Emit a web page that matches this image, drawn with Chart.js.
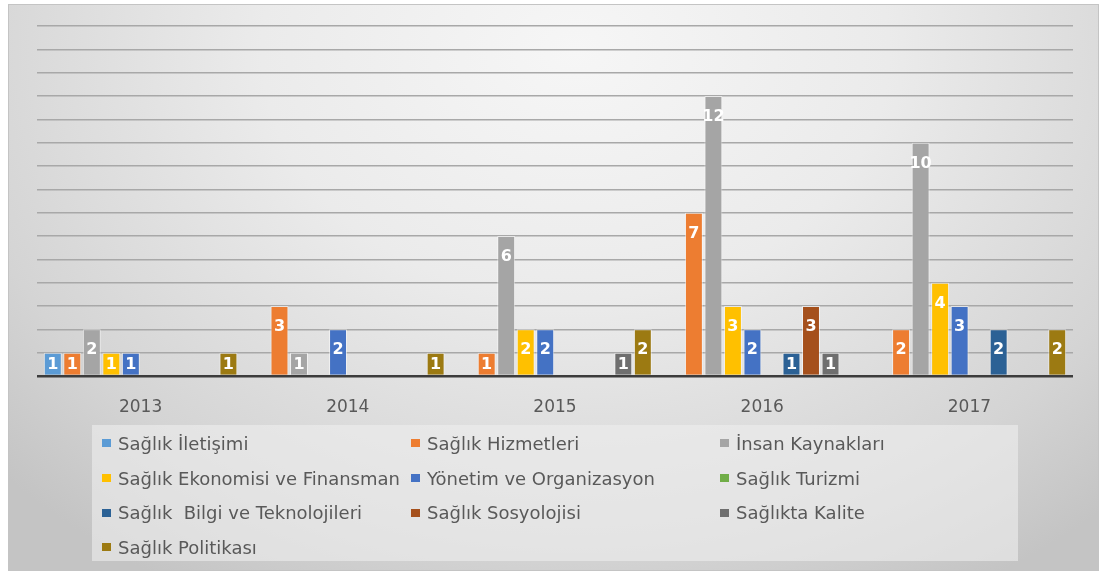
<!DOCTYPE html>
<html>
<head>
<meta charset="utf-8">
<script src="https://cdn.jsdelivr.net/npm/chart.js"></script>
<style>
  body { margin: 0; background: #fff; }
  #frame {
    position: absolute; left: 8px; top: 4px; width: 1089px; height: 565px;
    border: 1px solid #c4c4c4;
    background: radial-gradient(ellipse 72% 110% at 52% 8%, #f6f6f6 0%, #ebebeb 40%, #d4d4d4 80%, #c4c4c4 100%);
  }
  #wrap { position: absolute; left: 0; top: 0; width: 1101px; height: 574px; }
  #legend {
    position: absolute; left: 92px; top: 425px; width: 926px; height: 136px;
    background: rgba(238, 238, 238, 0.6);
    box-sizing: border-box; padding: 1px 0 0 10px;
    display: grid; grid-template-columns: 309px 309px 309px; grid-auto-rows: 34.7px;
    font-family: "DejaVu Sans", sans-serif; font-size: 18px; color: #595959;
  }
  .item { display: flex; align-items: center; white-space: pre; }
  .box { width: 9px; height: 8px; margin-right: 7px; flex: none; }
</style>
</head>
<body>
<div id="frame"></div>
<div id="wrap"><canvas id="chart" width="1101" height="574"></canvas></div>
<div id="legend"></div>
<script>
// Categories and series
const years = ['2013', '2014', '2015', '2016', '2017'];
const seriesNames = [
    'Sağlık İletişimi', 'Sağlık Hizmetleri', 'İnsan Kaynakları',
    'Sağlık Ekonomisi ve Finansman', 'Yönetim ve Organizasyon', 'Sağlık Turizmi',
    'Sağlık  Bilgi ve Teknolojileri', 'Sağlık Sosyolojisi', 'Sağlıkta Kalite',
    'Sağlık Politikası'
];
const seriesColors = ['#5B9BD5', '#ED7D31', '#A5A5A5', '#FFC000', '#4472C4', '#70AD47', '#2B6195', '#A5501C', '#6F6F6F', '#9C7A12'];

// Values per series, one per year
const iletisim   = [1, 0, 0, 0, 0];
const hizmetler  = [1, 3, 1, 7, 2];
const insan      = [2, 1, 6, 12, 10];
const ekonomi    = [1, 0, 2, 3, 4];
const yonetim    = [1, 2, 2, 2, 3];
const turizm     = [0, 0, 0, 0, 0];
const bilgi      = [0, 0, 0, 1, 2];
const sosyoloji  = [0, 0, 0, 3, 0];
const kalite     = [0, 0, 1, 1, 0];
const politika   = [1, 1, 2, 0, 2];
const seriesValues = [iletisim, hizmetler, insan, ekonomi, yonetim, turizm, bilgi, sosyoloji, kalite, politika];

// Build HTML legend (3 columns)
const legendEl = document.getElementById('legend');
legendEl.innerHTML = seriesNames.map((name, i) => `
    <div class="item"><span class="box" style="background:${seriesColors[i]}"></span>${name}</div>
`).join('');

// Value labels, white, inside the end of each bar
const barLabels = {
    id: 'barLabels',
    afterDatasetsDraw(chart) {
        const ctx = chart.ctx;
        ctx.save();
        ctx.font = 'bold 16px "DejaVu Sans", sans-serif';
        ctx.fillStyle = '#ffffff';
        ctx.textAlign = 'center';
        ctx.textBaseline = 'middle';
        chart.data.datasets.forEach((ds, di) => {
            const meta = chart.getDatasetMeta(di);
            meta.data.forEach((bar, i) => {
                const v = ds.data[i];
                if (!v) return;
                const y = Math.min(bar.y + 20, (bar.y + bar.base) / 2);
                ctx.fillText(String(v), bar.x, y + 1);
            });
        });
        ctx.restore();
    }
};

new Chart(document.getElementById('chart'), {
    type: 'bar',
    data: {
        labels: years,
        datasets: seriesNames.map((name, i) => ({
            label: name,
            data: seriesValues[i],
            backgroundColor: seriesColors[i],
            borderColor: 'rgba(255,255,255,0.55)',
            borderWidth: 1,
            categoryPercentage: 0.942,
            barPercentage: 0.92
        }))
    },
    options: {
        responsive: false,
        animation: false,
        layout: { padding: { left: 37, right: 28, top: 26, bottom: 0 } },
        plugins: { legend: { display: false }, tooltip: { enabled: false } },
        scales: {
            x: {
                grid: { display: false },
                border: { display: false },
                ticks: { color: '#595959', font: { family: 'DejaVu Sans', size: 17 }, padding: 13 },
                afterFit(scale) { scale.height = 198; }
            },
            y: {
                min: 0, max: 15,
                ticks: { display: false, stepSize: 1 },
                border: { display: false },
                grid: {
                    drawTicks: false,
                    color: c => c.tick.value === 0 ? '#3c3c3c' : '#a8a8a8',
                    lineWidth: c => c.tick.value === 0 ? 2.5 : 1.5
                }
            }
        }
    },
    plugins: [barLabels]
});
</script>
</body>
</html>
